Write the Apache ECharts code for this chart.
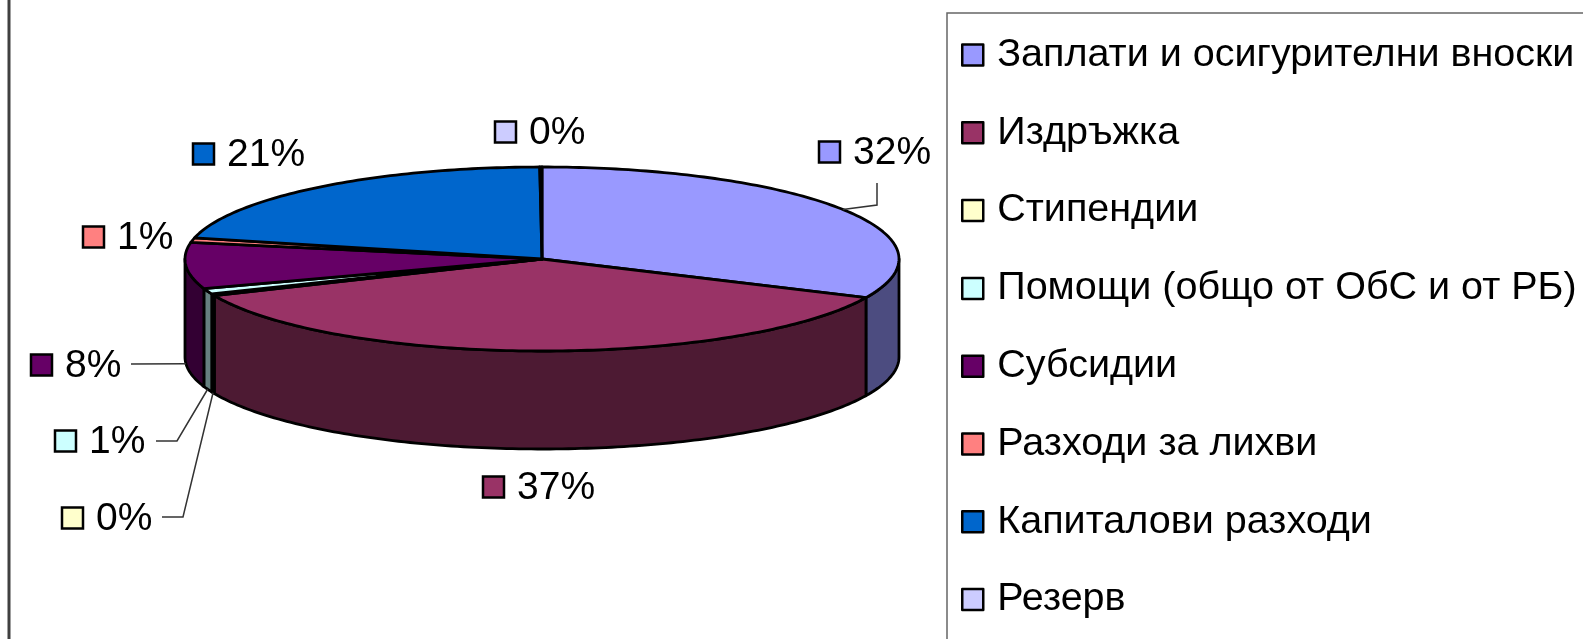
<!DOCTYPE html>
<html><head><meta charset="utf-8">
<script src="https://cdn.jsdelivr.net/npm/echarts@6/dist/echarts.min.js"></script>
<style>html,body{margin:0;padding:0;background:#fff}#chart{width:1583px;height:639px}</style>
</head><body><div id="chart"></div>
<script>
// ---- data ----
const categories = ['Заплати и осигурителни вноски','Издръжка','Стипендии','Помощи (общо от ОбС и от РБ)','Субсидии','Разходи за лихви','Капиталови разходи','Резерв'];
const values = [31.9, 36.6, 0.3, 1.0, 8.1, 0.8, 21.2, 0.1];
const topColors = ['#9999FF','#993366','#FFFFCC','#CCFFFF','#660066','#FF8080','#0066CC','#CCCCFF'];
const sideColors = ['#4C4C80','#4D1A33','#808066','#668080','#330033','#804040','#003366','#666680'];

// ---- layout ----
const PIE = {cx: 542, cy: 259, rx: 357, ry: 92, h: 98};
const FONT = '"Liberation Sans", Arial, sans-serif';
const labelLayout = [
  {x: 818, y: 152, leader: [[877, 183], [877, 205]]},
  {x: 482, y: 487},
  {x: 61,  y: 518, leader: [[162, 517], [183, 517]]},
  {x: 54,  y: 441, leader: [[156, 441], [177, 441]]},
  {x: 30,  y: 365, leader: [[131, 364]]},
  {x: 82,  y: 237},
  {x: 192, y: 154},
  {x: 494, y: 132}
];

const total = values.reduce((a, b) => a + b, 0);
const starts = [];
let acc = 0;
values.forEach(v => { starts.push(acc / total * 360); acc += v; });

function pt(theta, dy) {
  const r = theta * Math.PI / 180;
  return [PIE.cx + PIE.rx * Math.sin(r), PIE.cy - PIE.ry * Math.cos(r) + (dy || 0)];
}
function arc(a0, a1, dy) {
  const n = Math.max(2, Math.ceil((a1 - a0) / 1));
  const out = [];
  for (let i = 0; i <= n; i++) out.push(pt(a0 + (a1 - a0) * i / n, dy));
  return out;
}
function angles(i, v) {
  const a0 = starts[i];
  return [a0, a0 + v / total * 360];
}

const chart = echarts.init(document.getElementById('chart'));
const data = values.map((v, i) => ({name: categories[i], value: v}));

const option = {
  animation: false,
  color: topColors,
  legend: {
    orient: 'vertical', left: 956, top: 30,
    itemWidth: 21, itemHeight: 21, itemGap: 37.8,
    icon: 'rect', selectedMode: false,
    itemStyle: {borderColor: '#000', borderWidth: 2.5},
    textStyle: {fontSize: 39.5, fontFamily: FONT, color: '#000', padding: [0, 0, 0, 9]},
    data: categories
  },
  graphic: [
    {type: 'line', shape: {x1: 9, y1: 0, x2: 9, y2: 639}, style: {stroke: '#404040', lineWidth: 3}},
    {type: 'rect', shape: {x: 947, y: 13, width: 700, height: 700}, style: {fill: 'none', stroke: '#666', lineWidth: 1.5}}
  ],
  series: [
    { // hidden pie only feeding the legend
      type: 'pie', radius: [0, 0], center: [-200, -200], silent: true,
      label: {show: false}, labelLine: {show: false},
      itemStyle: {borderWidth: 0}, data: data
    },
    { // side walls
      type: 'custom', coordinateSystem: 'none', z: 2, silent: true, data: data,
      renderItem: function (params, api) {
        const i = params.dataIndex;
        const [a0, a1] = angles(i, api.value(0));
        const t0 = Math.max(a0, 90), t1 = Math.min(a1, 270);
        if (t1 <= t0) return {type: 'group', children: []};
        const pts = arc(t0, t1, 0).concat(arc(t0, t1, PIE.h).reverse());
        return {type: 'polygon', shape: {points: pts},
          style: {fill: sideColors[i], stroke: '#000', lineWidth: 2.8, lineJoin: 'round'}};
      }
    },
    { // top faces
      type: 'custom', coordinateSystem: 'none', z: 3, silent: true, data: data,
      renderItem: function (params, api) {
        const i = params.dataIndex;
        const [a0, a1] = angles(i, api.value(0));
        const pts = [[PIE.cx, PIE.cy]].concat(arc(a0, a1, 0));
        return {type: 'polygon', shape: {points: pts},
          style: {fill: topColors[i], stroke: '#000', lineWidth: 2.8, lineJoin: 'round'}};
      }
    },
    { // data labels
      type: 'custom', coordinateSystem: 'none', z: 4, silent: true, data: data,
      renderItem: function (params, api) {
        const i = params.dataIndex;
        const v = api.value(0);
        const [a0, a1] = angles(i, v);
        const L = labelLayout[i];
        const children = [
          {type: 'rect', shape: {x: L.x + 1, y: L.y - 10.5, width: 21, height: 21},
            style: {fill: topColors[i], stroke: '#000', lineWidth: 2.5}},
          {type: 'text', x: L.x + 35, y: L.y + 1,
            style: {text: Math.round(v / total * 100) + '%', fontSize: 39, fontFamily: FONT,
              fill: '#000', align: 'left', verticalAlign: 'middle'}}
        ];
        if (L.leader) {
          const mid = (a0 + a1) / 2;
          const end = (mid > 90 && mid < 270) ? pt(mid, PIE.h) : pt(mid, 0);
          children.push({type: 'polyline', shape: {points: L.leader.concat([end])},
            style: {stroke: '#333', lineWidth: 1.5, fill: null}});
        }
        return {type: 'group', children: children};
      }
    }
  ]
};
chart.setOption(option);
</script>
</body></html>
